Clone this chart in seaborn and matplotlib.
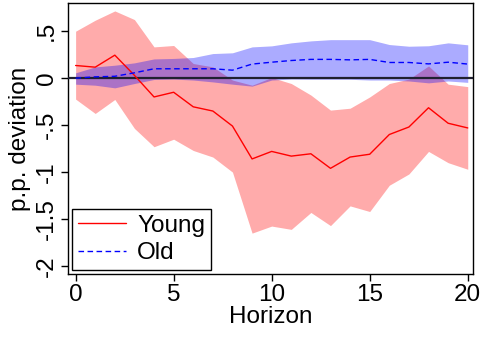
import numpy as np
import pandas as pd
import matplotlib
matplotlib.use("Agg")
import matplotlib.pyplot as plt
import seaborn as sns

horizon = list(range(21))
young = [0.135, 0.117, 0.245, 0.03, -0.20, -0.15, -0.305, -0.35, -0.51, -0.86, -0.78,
         -0.83, -0.805, -0.96, -0.84, -0.81, -0.60, -0.52, -0.315, -0.48, -0.53]
young_hi = [0.50, 0.617, 0.716, 0.624, 0.333, 0.348, 0.156, 0.12, -0.02, -0.075, 0.007,
            -0.057, -0.18, -0.34, -0.32, -0.20, -0.057, -0.01, 0.13, -0.064, -0.09]
young_lo = [-0.223, -0.376, -0.227, -0.535, -0.73, -0.65, -0.77, -0.84, -1.0, -1.65, -1.575,
            -1.61, -1.43, -1.57, -1.36, -1.42, -1.14, -1.02, -0.78, -0.90, -0.97]
old = [0.0, 0.014, 0.02, 0.057, 0.10, 0.10, 0.10, 0.10, 0.085, 0.15, 0.17,
       0.188, 0.20, 0.20, 0.195, 0.20, 0.167, 0.167, 0.152, 0.17, 0.15]
old_hi = [0.057, 0.12, 0.138, 0.163, 0.205, 0.21, 0.22, 0.262, 0.27, 0.333, 0.344,
          0.376, 0.397, 0.41, 0.41, 0.41, 0.358, 0.34, 0.345, 0.376, 0.355]
old_lo = [-0.064, -0.075, -0.103, -0.057, -0.014, -0.01, -0.02, -0.04, -0.064, -0.085, -0.02,
          -0.01, -0.012, -0.012, -0.012, -0.02, -0.02, -0.03, -0.05, -0.03, -0.045]

yticks = [0.5, 0, -0.5, -1, -1.5, -2]
yticklabels = [".5", "0", "-.5", "-1", "-1.5", "-2"]
xticks = [0, 5, 10, 15, 20]

sns.set_style("ticks")
plt.rcParams['font.family'] = ['Liberation Sans', 'DejaVu Sans']
plt.rcParams['font.size'] = 17.5
for k in ["text.color", "axes.labelcolor", "xtick.color", "ytick.color", "axes.edgecolor"]:
    plt.rcParams[k] = "black"

fig = plt.figure(figsize=(4.82, 3.37), dpi=100)
ax = fig.add_axes([0.141, 0.187, 0.840, 0.804])

ax.fill_between(horizon, young_lo, young_hi, color="red", alpha=0.33, linewidth=0)
ax.fill_between(horizon, old_lo, old_hi, color="blue", alpha=0.33, linewidth=0)
ax.axhline(0, color="#202030", linewidth=1.6, zorder=3)

df = pd.DataFrame({"Horizon": horizon * 2,
                   "value": young + old,
                   "group": ["Young"] * 21 + ["Old"] * 21})
sns.lineplot(data=df, x="Horizon", y="value", hue="group", style="group",
             palette={"Young": "red", "Old": "blue"},
             dashes={"Young": "", "Old": (4, 2.5)}, linewidth=1.0, ax=ax, zorder=4)

ax.set_xlim(-0.39, 20.26)
ax.set_ylim(-2.085, 0.80)
ax.set_xticks(xticks)
ax.set_yticks(yticks)
ax.set_yticklabels(yticklabels, rotation=90, va="center")
ax.set_xlabel("Horizon", labelpad=0)
ax.set_ylabel("p.p. deviation", labelpad=4)
for s in ax.spines.values():
    s.set_color("black")
    s.set_linewidth(1.0)
ax.tick_params(axis="both", direction="out", length=5, width=1, colors="black", pad=2)

leg = ax.legend(loc="lower left", frameon=True, fancybox=False, edgecolor="black",
                handlelength=2.0, borderpad=0.25, labelspacing=0.22, handletextpad=0.45,
                borderaxespad=0.15, fontsize=17.5)
leg.get_frame().set_linewidth(1.0)
leg.get_frame().set_alpha(1.0)

fig.savefig("out.png", dpi=100)
